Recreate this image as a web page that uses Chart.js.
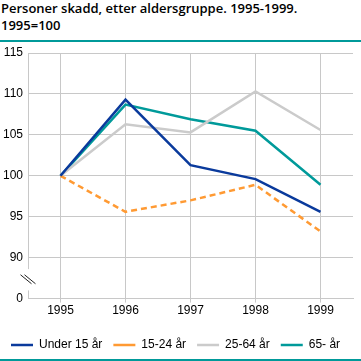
<!DOCTYPE html>
<html>
<head>
<meta charset="utf-8">
<script src="https://cdn.jsdelivr.net/npm/chart.js@4/dist/chart.umd.min.js"></script>
<style>
  html, body { margin: 0; padding: 0; background: #fff; }
  #wrap { position: relative; width: 361px; height: 361px; overflow: hidden; }
  #title {
    position: absolute; left: 1px; top: 0px;
    font-family: "Open Sans", sans-serif; font-weight: 600; font-size: 13px;
    line-height: 17px; color: #000; white-space: nowrap;
  }
  .rule { position: absolute; left: 0; width: 361px; height: 2px; background: #009a9a; }
  canvas { position: absolute; left: 0; top: 0; }
</style>
</head>
<body>
<div id="wrap">
  <div id="title">Personer skadd, etter aldersgruppe. 1995-1999.<br>1995=100</div>
  <div class="rule" style="top:40px"></div>
  <canvas id="chart" width="361" height="361"></canvas>
  <div class="rule" style="top:359px"></div>
</div>
<script>
Chart.defaults.font.family = "'Liberation Sans', Arial, sans-serif";
Chart.defaults.font.size = 12;
Chart.defaults.color = "#000";

const years = ["1995", "1996", "1997", "1998", "1999"];
const under15 = [100, 109.3, 101.3, 99.6, 95.6];
const age15to24 = [100, 95.6, 97.0, 98.9, 93.2];
const age25to64 = [100, 106.3, 105.3, 110.3, 105.6];
const age65plus = [100, 108.7, 106.9, 105.5, 98.9];
const yTicks = [0, 90, 95, 100, 105, 110, 115];

const gridColor = "#c8c8c8";

// y axis drawn by hand so it can have a break between 0 and 90
const axisBreak = {
  id: "axisBreak",
  afterDraw(chart) {
    const { ctx, chartArea, scales } = chart;
    const y = scales.y;
    const x = chartArea.left + 0.5;
    const gapTop = y.getPixelForValue(88.6);
    const gapBottom = y.getPixelForValue(86.0);
    ctx.save();
    ctx.strokeStyle = gridColor;
    ctx.lineWidth = 1;
    ctx.beginPath();
    ctx.moveTo(x, chartArea.top);
    ctx.lineTo(x, gapTop);
    ctx.moveTo(x, gapBottom);
    ctx.lineTo(x, chartArea.bottom);
    ctx.stroke();
    const cy = (gapTop + gapBottom) / 2;
    ctx.strokeStyle = "#222";
    ctx.beginPath();
    [-2, 2].forEach(d => {
      ctx.moveTo(x - 6 + d, cy - 5);
      ctx.lineTo(x + 5 + d, cy + 4);
    });
    ctx.stroke();
    ctx.restore();
  }
};

const data = {
  labels: years,
  datasets: [
    { label: "Under 15 år", data: under15, borderColor: "#0a3a9c", backgroundColor: "#0a3a9c" },
    { label: "15-24 år", data: age15to24, borderColor: "#ff9a33", backgroundColor: "#ff9a33", borderDash: [6, 4] },
    { label: "25-64 år", data: age25to64, borderColor: "#cbcbcb", backgroundColor: "#cbcbcb" },
    { label: "65- år", data: age65plus, borderColor: "#009a9a", backgroundColor: "#009a9a" }
  ].map(ds => Object.assign({ borderWidth: 2.5, pointRadius: 0, tension: 0, fill: false }, ds))
};

const options = {
  responsive: false,
  animation: false,
  layout: { padding: { top: 53, left: 0, right: 0, bottom: 0 } },
  plugins: {
    title: { display: false },
    tooltip: { enabled: false },
    legend: {
      position: "bottom",
      align: "start",
      labels: {
        usePointStyle: true,
        pointStyle: "line",
        pointStyleWidth: 22,
        boxHeight: 12,
        padding: 11,
        font: { size: 12 }
      }
    }
  },
  scales: {
    x: {
      offset: true,
      grid: { color: gridColor, tickLength: 4, offset: false },
      border: { color: gridColor },
      ticks: { padding: 1, maxRotation: 0 },
      afterFit(scale) { scale.height += 9; }
    },
    y: {
      min: 85,
      max: 115,
      afterBuildTicks(scale) {
        scale.ticks = yTicks.map(v => ({ value: v === 0 ? 85 : v }));
      },
      afterFit(scale) { scale.width = 28; },
      grid: {
        color: ctx => (ctx.tick && ctx.tick.value === 85 ? "rgba(0,0,0,0)" : gridColor),
        drawTicks: false
      },
      border: { display: false },
      ticks: {
        padding: 5,
        callback: v => (v === 85 ? "0" : String(v))
      }
    },
    yRight: {
      position: "right",
      display: true,
      grid: { display: false },
      border: { display: false },
      ticks: { display: false },
      afterFit(scale) { scale.width = 8; }
    }
  }
};

new Chart("chart", { type: "line", data, options, plugins: [axisBreak] });
</script>
</body>
</html>
